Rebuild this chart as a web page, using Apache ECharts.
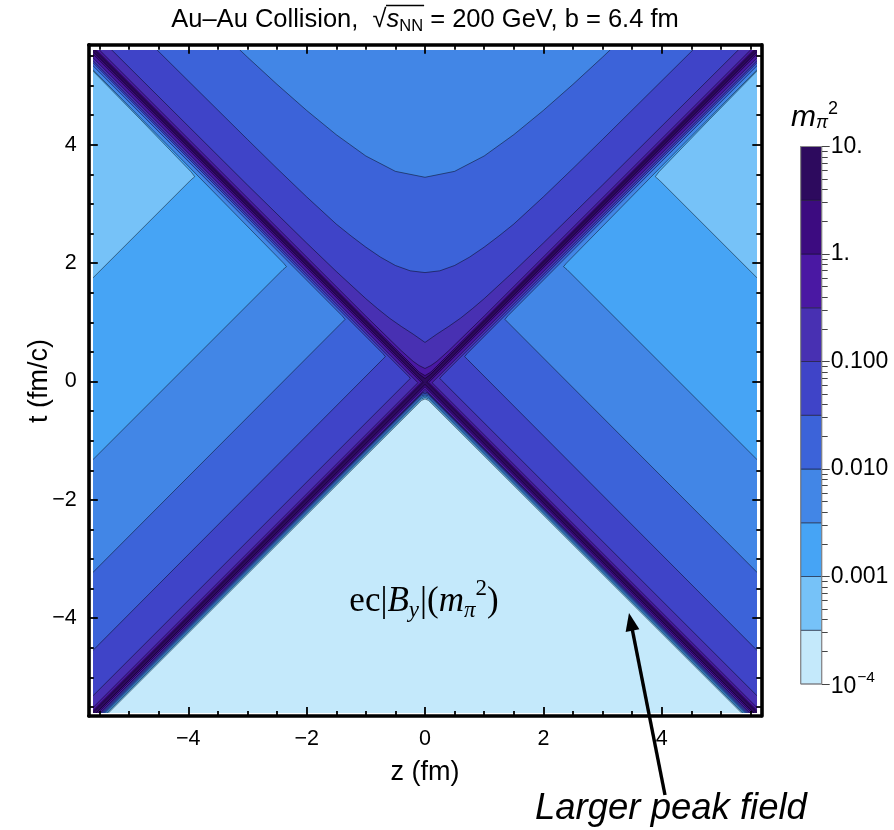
<!DOCTYPE html>
<html>
<head>
<meta charset="utf-8">
<script src="https://cdn.jsdelivr.net/npm/echarts@6.0.0/dist/echarts.min.js"></script>
<style>
html,body{margin:0;padding:0;background:#ffffff;}
#chart{width:894px;height:830px;}
</style>
</head>
<body>
<div id="chart"></div>
<script>
// ================= DATA =================
// colour bands (log10 of ec|B_y| in m_pi^2), half-decade steps
const bandLog = [-4, -3.5, -3, -2.5, -2, -1.5, -1, -0.5, 0, 0.5, 1];
const bandColors = ['#c4e9fb','#76c2f8','#46a4f5','#4286e6','#3c63d9','#3f44c8','#4830b2','#4a18a3','#3c0b80','#2d0a5e'];

// frame ticks
const zMajor = [-4, -2, 0, 2, 4];
const zMinor = [-5.5,-5,-4.5,-3.5,-3,-2.5,-1.5,-1,-0.5,0.5,1,1.5,2.5,3,3.5,4.5,5,5.5];
const tMajor = [-4, -2, 0, 2, 4];
const tMinor = [-5.5,-5,-4.5,-3.5,-3,-2.5,-1.5,-1,-0.5,0.5,1,1.5,2.5,3,3.5,4.5,5,5.5];

// colour bar ticks (log10 units)
const cbMajor = [-4, -3, -2, -1, 0, 1];
const cbLabels = ['{n|10}{s|\u22124}', '0.001', '0.010', '0.100', '1.', '10.'];
const cbMinor = [-3.699,-3.523,-3.398,-3.301,-3.222,-3.155,-3.097,-3.046,
                 -2.699,-2.523,-2.398,-2.301,-2.222,-2.155,-2.097,-2.046,
                 -1.699,-1.523,-1.398,-1.301,-1.222,-1.155,-1.097,-1.046,
                 -0.699,-0.523,-0.398,-0.301,-0.222,-0.155,-0.097,-0.046,
                  0.301, 0.477, 0.602, 0.699, 0.778, 0.845, 0.903, 0.954];

// superlevel regions: [z (fm), t (fm/c)]
const region0 = [[-5.6,-5.6],[5.6,-5.6],[5.6,5.6],[-5.6,5.6]];
const region1 = [[-7,7.5],[7,7.5],[7,-7.25],[0.06,-0.32],[0,-0.295],[-0.06,-0.32],[-7,-7.25]];
const region2 = [[-7,-7.225],[-7,0.36],[-3.96,3.40],[-3.89,3.46],[-3.95,3.54],[-4.8,4.42],[-7,6.66],[-7,7.5],
                 [7,7.5],[7,6.66],[4.8,4.42],[3.95,3.54],[3.89,3.46],[3.96,3.40],[7,0.36],[7,-7.225],
                 [0.06,-0.295],[0,-0.27],[-0.06,-0.295]];
const region3 = [[-7,-7.20],[-7,-2.71],[-2.40,1.89],[-2.34,1.94],[-2.39,2.00],[-4,3.64],[-7,6.67],[-7,7.5],
                 [7,7.5],[7,6.67],[4,3.64],[2.39,2.00],[2.34,1.94],[2.40,1.89],[7,-2.71],[7,-7.20],
                 [0.06,-0.27],[0,-0.245],[-0.06,-0.27]];
const region4 = [[-7,-7.18],[-7,-4.62],[-1.41,0.99],[-1.35,1.05],[-1.40,1.11],[-4,3.72],[-7,6.73],
                 [-3.6,6.05],[-3,5.48],[-2.5,5.02],[-2,4.58],[-1.5,4.17],[-1,3.81],[-0.5,3.55],[0,3.45],
                 [0.5,3.55],[1,3.81],[1.5,4.17],[2,4.58],[2.5,5.02],[3,5.48],[3.6,6.05],
                 [7,6.73],[4,3.72],[1.40,1.11],[1.35,1.05],[1.41,0.99],[7,-4.62],[7,-7.18],
                 [0.06,-0.245],[0,-0.225],[-0.06,-0.245]];
const region5 = [[-7,-7.155],[-7,-5.94],[-0.72,0.37],[-0.67,0.42],[-0.71,0.47],[-3,2.77],[-7,6.78],
                 [-6,7.07],[-5,6.07],[-4,5.08],[-3,4.09],[-2.5,3.60],[-2,3.12],[-1.5,2.66],[-1.25,2.46],
                 [-1,2.27],[-0.75,2.10],[-0.5,1.96],[-0.25,1.87],[0,1.84],[0.25,1.87],[0.5,1.96],
                 [0.75,2.10],[1,2.27],[1.25,2.46],[1.5,2.66],[2,3.12],[2.5,3.60],[3,4.09],[4,5.08],
                 [5,6.07],[6,7.07],[7,6.78],[3,2.77],[0.71,0.47],[0.67,0.42],[0.72,0.37],[7,-5.94],
                 [7,-7.155],[0.06,-0.22],[0,-0.20],[-0.06,-0.22]];
const region6 = [[-7,-7.13],[-7,-6.70],[-0.28,0.02],[-0.25,0.05],[-0.27,0.08],[-7,6.81],[-7,7.30],
                 [-5,5.31],[-3,3.32],[-2,2.34],[-1.5,1.86],[-1,1.40],[-0.8,1.23],[-0.6,1.07],[-0.4,0.93],
                 [-0.2,0.80],[0,0.66],[0.2,0.80],[0.4,0.93],[0.6,1.07],[0.8,1.23],[1,1.40],[1.5,1.86],
                 [2,2.34],[3,3.32],[5,5.31],[7,7.30],[7,6.81],[0.27,0.08],[0.25,0.05],[0.28,0.02],
                 [7,-6.70],[7,-7.13],[0.05,-0.195],[0,-0.175],[-0.05,-0.195]];
const region7 = [[-7,-7.10],[-7,-6.90],[-0.12,-0.02],[-7,6.86],[-7,7.10],[-1,1.105],[-0.4,0.52],
                 [-0.2,0.34],[-0.1,0.27],[0,0.22],[0.1,0.27],[0.2,0.34],[0.4,0.52],[1,1.105],[7,7.10],
                 [7,6.86],[0.12,-0.02],[7,-6.90],[7,-7.10],[0,-0.135]];
const region8 = [[-7,-7.07],[-7,-6.95],[-0.065,-0.015],[-7,6.92],[-7,7.05],[-1,1.05],[-0.2,0.26],
                 [-0.1,0.16],[0,0.10],[0.1,0.16],[0.2,0.26],[1,1.05],[7,7.05],[7,6.92],[0.065,-0.015],
                 [7,-6.95],[7,-7.07],[0,-0.09]];
const region9 = [[-7,-7.04],[-7,-6.98],[-0.03,-0.01],[-7,6.965],[-7,7.02],[-1,1.02],[-0.1,0.125],
                 [0,0.05],[0.1,0.125],[1,1.02],[7,7.02],[7,6.965],[0.03,-0.01],[7,-6.98],[7,-7.04],
                 [0,-0.05]];

// ================= RENDER =================
const regions = [region0, region1, region2, region3, region4, region5, region6, region7, region8, region9];
const SANS = '"Liberation Sans", Arial, Helvetica, sans-serif';
const SERIF = '"Liberation Serif", "Times New Roman", serif';

const chart = echarts.init(document.getElementById('chart'), null, {renderer: 'canvas', width: 894, height: 830});

const mctx = document.createElement('canvas').getContext('2d');
function fontStr(r) { return (r.italic ? 'italic ' : '') + r.size + 'px ' + (r.family || SANS); }
function runText(runs, x0, y, anchor) {
  const ws = runs.map(r => { mctx.font = fontStr(r); return mctx.measureText(r.t).width + (r.gap || 0); });
  const total = ws.reduce((a, b) => a + b, 0);
  let x = anchor === 'center' ? x0 - total / 2 : x0;
  const els = [], xs = [];
  runs.forEach((r, i) => {
    xs.push(x);
    els.push({type: 'text', x: x, y: y + (r.dy || 0), silent: true, z: 100,
      style: {text: r.t, font: fontStr(r), fill: '#000', textAlign: 'left', textVerticalAlign: 'middle',
              align: 'left', verticalAlign: 'middle'}});
    x += ws[i];
  });
  return {els, xs, ws};
}

const minusFmt = v => (v < 0 ? '\u2212' + Math.abs(v) : String(v));

function frameAxis(pos, isMinor, isX) {
  const major = isX ? zMajor : tMajor, minor = isX ? zMinor : tMinor;
  return {
    type: 'value', gridIndex: 0, position: pos, z: 5,
    min: isX ? -5.68 : -5.65, max: isX ? 5.68 : 5.69,
    axisLine: {show: !isMinor, onZero: false, lineStyle: {color: '#000', width: 3.6}},
    axisTick: {show: true, inside: true, length: isMinor ? 5 : 9, customValues: isMinor ? minor : major,
               lineStyle: {color: '#000', width: 1.8}},
    axisLabel: {show: !isMinor && (pos === 'bottom' || pos === 'left'), customValues: major, formatter: minusFmt,
                fontSize: 21.5, fontFamily: SANS, color: '#000', margin: 12},
    splitLine: {show: false}
  };
}

const xAxes = [
  frameAxis('bottom', false, true), frameAxis('top', false, true),
  frameAxis('bottom', true, true), frameAxis('top', true, true),
  {type: 'value', gridIndex: 1, min: -5.6, max: 5.6, show: false},
  {type: 'value', gridIndex: 2, min: 0, max: 1, show: false}
];
const yAxes = [
  frameAxis('left', false, false), frameAxis('right', false, false),
  frameAxis('left', true, false), frameAxis('right', true, false),
  {type: 'value', gridIndex: 1, min: -5.6, max: 5.6, show: false},
  {type: 'value', gridIndex: 2, min: -4, max: 1, position: 'right',
   axisLine: {show: false, onZero: false},
   axisTick: {show: true, inside: false, length: 8, customValues: cbMajor, lineStyle: {color: '#444', width: 1}},
   axisLabel: {show: true, customValues: cbMajor, margin: 9, fontSize: 23, fontFamily: SANS, color: '#000',
               formatter: v => cbLabels[cbMajor.indexOf(Math.round(v))],
               rich: {n: {fontSize: 23, fontFamily: SANS, color: '#000', verticalAlign: 'bottom'},
                      s: {fontSize: 15.5, fontFamily: SANS, color: '#000', verticalAlign: 'bottom', padding: [0, 0, 12, 1]}}},
   splitLine: {show: false}},
  {type: 'value', gridIndex: 2, min: -4, max: 1, position: 'right',
   axisLine: {show: false, onZero: false},
   axisTick: {show: true, inside: false, length: 6, customValues: cbMinor, lineStyle: {color: '#444', width: 1}},
   axisLabel: {show: false}, splitLine: {show: false}}
];

const regionData = regions.map((r, k) => [0, 0, k]);
const cbData = [];
for (let i = 0; i < bandColors.length; i++) cbData.push([0, bandLog[i], bandLog[i], bandLog[i + 1], i]);
cbData.push([0, bandLog[0], bandLog[0], bandLog[bandLog.length - 1], -1]);

// texts
const TY = 20;
const title = runText([
  {t: 'Au\u2013Au Collision,  ', size: 25.5},
  {t: '\u221A', size: 25.5},
  {t: 's', size: 25.5, italic: true},
  {t: 'NN', size: 16.5, dy: 6.5},
  {t: ' = 200 GeV, b = 6.4 fm', size: 25.5}
], 425, TY, 'center');
const vx1 = title.xs[2] - 0.5, vx2 = title.xs[3] + title.ws[3] + 1;

const cbTitle = runText([
  {t: 'm', size: 30, italic: true},
  {t: '\u03C0', size: 18, italic: true, dy: 5.6},
  {t: '2', size: 18, dy: -8.5}
], 791, 117.3, 'left');

const fieldLabel = runText([
  {t: 'ec|', size: 35, family: SERIF},
  {t: 'B', size: 35, family: SERIF, italic: true},
  {t: 'y', size: 23, family: SERIF, italic: true, dy: 9, gap: 1},
  {t: '|(', size: 35, family: SERIF},
  {t: 'm', size: 35, family: SERIF, italic: true},
  {t: '\u03C0', size: 23, family: SERIF, italic: true, dy: 9},
  {t: '2', size: 23, family: SERIF, dy: -13},
  {t: ')', size: 35, family: SERIF}
], 424, 602, 'center');

const peakLabel = runText([{t: 'Larger peak field', size: 36.5, italic: true}], 535, 809, 'left');

// arrow
const tip = [629, 613], tail = [665, 795];
const dx = tip[0] - tail[0], dy = tip[1] - tail[1], dl = Math.hypot(dx, dy);
const ux = dx / dl, uy = dy / dl, px = -uy, py = ux;
const hl = 18, hw = 7;
const base = [tip[0] - ux * hl, tip[1] - uy * hl];

const graphics = [].concat(title.els, cbTitle.els, fieldLabel.els, peakLabel.els, [
  {type: 'line', silent: true, z: 100, shape: {x1: vx1, y1: TY - 14.5, x2: vx2, y2: TY - 14.5},
   style: {stroke: '#000', lineWidth: 1.4}},
  {type: 'text', x: 425, y: 773, silent: true, z: 100,
   style: {text: 'z (fm)', font: '27px ' + SANS, fill: '#000', textAlign: 'center', textVerticalAlign: 'middle', align: 'center', verticalAlign: 'middle'}},
  {type: 'text', x: 40, y: 381, rotation: Math.PI / 2, silent: true, z: 100,
   style: {text: 't (fm/c)', font: '27px ' + SANS, fill: '#000', textAlign: 'center', textVerticalAlign: 'middle', align: 'center', verticalAlign: 'middle'}},
  {type: 'line', silent: true, z: 100, shape: {x1: tail[0], y1: tail[1], x2: base[0] + ux * 2, y2: base[1] + uy * 2},
   style: {stroke: '#000', lineWidth: 3.4}},
  {type: 'polygon', silent: true, z: 100,
   shape: {points: [tip, [base[0] + px * hw, base[1] + py * hw], [base[0] - px * hw, base[1] - py * hw]]},
   style: {fill: '#000'}}
]);

const option = {
  animation: false,
  backgroundColor: '#ffffff',
  grid: [
    {left: 88.8, top: 44.7, width: 672.5, height: 671.2, containLabel: false, outerBoundsMode: 'none'},
    {left: 93.5, top: 50.0, width: 663.0, height: 663.0, containLabel: false, outerBoundsMode: 'none'},
    {left: 800.7, top: 146.5, width: 21, height: 537.5, containLabel: false, outerBoundsMode: 'none'}
  ],
  xAxis: xAxes,
  yAxis: yAxes,
  series: [
    {
      type: 'custom', xAxisIndex: 4, yAxisIndex: 4, clip: true, z: 2,
      encode: {x: 0, y: 1},
      data: regionData,
      renderItem: function (params, api) {
        const k = api.value(2);
        const pts = regions[k].map(p => api.coord(p));
        return {type: 'polygon', shape: {points: pts},
          style: {fill: bandColors[k], stroke: k === 0 ? null : 'rgba(0,0,0,0.5)', lineWidth: 0.9}};
      }
    },
    {
      type: 'custom', xAxisIndex: 5, yAxisIndex: 5, z: 2,
      encode: {x: 0, y: 1},
      data: cbData,
      renderItem: function (params, api) {
        const lo = api.value(2), hi = api.value(3), k = api.value(4);
        const p1 = api.coord([0, hi]), p2 = api.coord([1, lo]);
        const shape = {x: p1[0], y: p1[1], width: p2[0] - p1[0], height: p2[1] - p1[1]};
        if (k < 0) return {type: 'rect', shape: shape, style: {fill: null, stroke: '#8a8a8a', lineWidth: 1}};
        return {type: 'rect', shape: shape, style: {fill: bandColors[k], stroke: 'rgba(20,20,40,0.55)', lineWidth: 1}};
      }
    }
  ],
  graphic: graphics
};
chart.setOption(option);
</script>
</body>
</html>
